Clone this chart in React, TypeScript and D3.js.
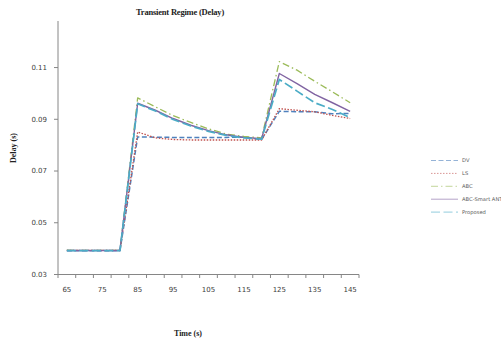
import { useEffect, useRef } from "react";
import * as d3 from "d3";

// time categories (s)
const times = [65, 70, 75, 80, 85, 90, 95, 100, 105, 110, 115, 120, 125, 130, 135, 140, 145];

const dv = [0.0392, 0.0392, 0.0392, 0.0392, 0.0832, 0.0831, 0.0830, 0.0830, 0.0830, 0.0830, 0.0831, 0.0822, 0.0931, 0.0929, 0.0929, 0.0921, 0.0923];
const ls = [0.0393, 0.0393, 0.0393, 0.0393, 0.0851, 0.0828, 0.0822, 0.0820, 0.0820, 0.0820, 0.0820, 0.0820, 0.0941, 0.0935, 0.0929, 0.0915, 0.0903];
const abc = [0.0394, 0.0393, 0.0393, 0.0393, 0.0983, 0.0948, 0.0914, 0.0888, 0.0863, 0.0843, 0.0834, 0.0828, 0.1123, 0.1090, 0.1047, 0.1006, 0.0964];
const smartAnt = [0.0393, 0.0393, 0.0393, 0.0393, 0.0962, 0.0935, 0.0903, 0.0877, 0.0856, 0.0840, 0.0830, 0.0825, 0.1077, 0.1038, 0.0996, 0.0964, 0.0931];
const proposed = [0.0392, 0.0392, 0.0392, 0.0392, 0.0960, 0.0932, 0.0899, 0.0874, 0.0853, 0.0838, 0.0828, 0.0823, 0.1054, 0.1009, 0.0964, 0.0938, 0.0907];

const yTicks = [0.03, 0.05, 0.07, 0.09, 0.11];
const xLabels = [65, 75, 85, 95, 105, 115, 125, 135, 145];

const series = [
  { name: "DV", values: dv, color: "#4f81bd", dash: "5,2.5", width: 1.5 },
  { name: "LS", values: ls, color: "#c0504d", dash: "1.5,1.5", width: 1.3 },
  { name: "ABC", values: abc, color: "#9bbb59", dash: "7,3,1.5,3", width: 1.3 },
  { name: "ABC-Smart ANT", values: smartAnt, color: "#8064a2", dash: "", width: 1.4 },
  { name: "Proposed", values: proposed, color: "#4bacc6", dash: "9,3.5", width: 1.7 },
];

const App = () => {
  const svgRef = useRef<SVGSVGElement>(null);

  useEffect(() => {
    const svg = d3.select(svgRef.current);
    svg.selectAll("*").remove();

    const left = 58, right = 359, top = 21, bottom = 274.5;
    const axisColor = "#868686";
    const labelColor = "#404040";

    const x = d3.scaleBand<number>().domain(times).range([left, right]).padding(0);
    const y = d3.scaleLinear().domain([0.03, 0.128]).range([bottom, top]);
    const cx = (t: number) => x(t)! + x.bandwidth() / 2;

    // title
    svg.append("text")
      .attr("x", 180).attr("y", 14.5)
      .attr("text-anchor", "middle")
      .attr("font-family", "Liberation Serif")
      .attr("font-weight", "bold")
      .attr("font-size", "8.5px")
      .attr("letter-spacing", "-0.2")
      .attr("fill", "#222")
      .text("Transient Regime (Delay)");

    // y axis
    svg.append("line")
      .attr("x1", left).attr("x2", left).attr("y1", top).attr("y2", bottom)
      .attr("stroke", axisColor);
    const yg = svg.append("g");
    yg.selectAll("line").data(yTicks).enter().append("line")
      .attr("x1", left - 4).attr("x2", left)
      .attr("y1", (d) => y(d)).attr("y2", (d) => y(d))
      .attr("stroke", axisColor);
    yg.selectAll("text").data(yTicks).enter().append("text")
      .attr("x", left - 11).attr("y", (d) => y(d))
      .attr("dy", "0.35em")
      .attr("text-anchor", "end")
      .attr("font-family", "DejaVu Sans")
      .attr("font-size", "7px")
      .attr("fill", labelColor)
      .text((d) => d.toFixed(2));

    // x axis
    svg.append("line")
      .attr("x1", left).attr("x2", right).attr("y1", bottom).attr("y2", bottom)
      .attr("stroke", axisColor);
    const bounds = times.map((t) => x(t)!).concat([right]);
    const xg = svg.append("g");
    xg.selectAll("line").data(bounds).enter().append("line")
      .attr("x1", (d) => d).attr("x2", (d) => d)
      .attr("y1", bottom).attr("y2", bottom + 3.5)
      .attr("stroke", axisColor);
    xg.selectAll("text").data(xLabels).enter().append("text")
      .attr("x", (d) => cx(d)).attr("y", 292)
      .attr("text-anchor", "middle")
      .attr("font-family", "DejaVu Sans")
      .attr("font-size", "7px")
      .attr("fill", labelColor)
      .text((d) => d);

    // axis titles
    svg.append("text")
      .attr("transform", "translate(16,148) rotate(-90)")
      .attr("text-anchor", "middle")
      .attr("font-family", "Liberation Serif")
      .attr("font-weight", "bold")
      .attr("font-size", "8px")
      .attr("fill", "#222")
      .text("Delay (s)");
    svg.append("text")
      .attr("x", 188).attr("y", 336)
      .attr("text-anchor", "middle")
      .attr("font-family", "Liberation Serif")
      .attr("font-weight", "bold")
      .attr("font-size", "8px")
      .attr("fill", "#222")
      .text("Time (s)");

    // series lines
    const line = d3.line<number>()
      .x((_, i) => cx(times[i]))
      .y((d) => y(d));
    svg.append("g").selectAll("path").data(series).enter().append("path")
      .attr("d", (s) => line(s.values))
      .attr("fill", "none")
      .attr("stroke", (s) => s.color)
      .attr("stroke-width", (s) => s.width)
      .attr("stroke-dasharray", (s) => s.dash)
      .attr("stroke-linejoin", "round");

    // legend
    const legend = svg.append("g").attr("transform", "translate(431,160.5)");
    const rows = legend.selectAll("g").data(series).enter().append("g")
      .attr("transform", (_, i) => `translate(0,${i * 12.9})`);
    rows.append("line")
      .attr("x1", 0).attr("x2", 27).attr("y1", 0).attr("y2", 0)
      .attr("stroke", (s) => s.color)
      .attr("stroke-opacity", 0.6)
      .attr("stroke-width", 1)
      .attr("stroke-dasharray", (s) => s.dash);
    rows.append("text")
      .attr("x", 31).attr("y", 0).attr("dy", "0.35em")
      .attr("font-family", "DejaVu Sans")
      .attr("font-size", "5.2px")
      .attr("fill", "#595959")
      .text((s) => s.name);
  }, []);

  return (
    <svg
      ref={svgRef}
      width={501}
      height={342}
      style={{ position: "absolute", left: 0, top: 0, background: "#fff" }}
    />
  );
};

export default App;
